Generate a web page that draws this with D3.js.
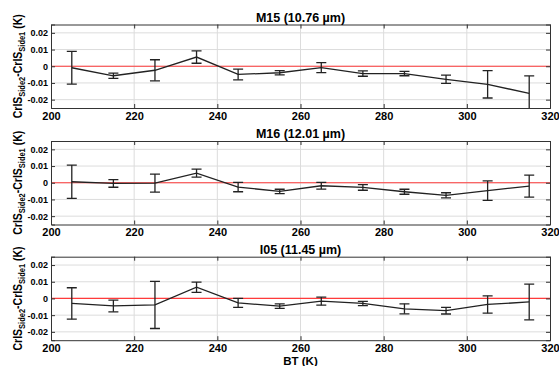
<!DOCTYPE html>
<html><head><meta charset="utf-8">
<script src="https://cdn.jsdelivr.net/npm/d3@7"></script>
<style>body{margin:0;background:#fff}svg{display:block}text{font-family:"Liberation Sans",Arial,sans-serif;font-weight:bold;fill:#000}</style>
</head><body><div id="chart"></div>
<script>
const bt = [205,215,225,235,245,255,265,275,285,295,305,315];
const titles = ["M15 (10.76 \u00b5m)", "M16 (12.01 \u00b5m)", "I05 (11.45 \u00b5m)"];
const m15Mean = [-0.0009,-0.0057,-0.0024,0.0055,-0.0049,-0.0039,-0.0008,-0.0044,-0.0044,-0.0078,-0.0108,-0.0163];
const m15Err  = [0.0098,0.0016,0.0063,0.0037,0.0032,0.0013,0.0030,0.0016,0.0013,0.0025,0.0082,0.0105];
const m16Mean = [0.0006,-0.0004,-0.0002,0.0058,-0.0026,-0.0052,-0.0018,-0.0028,-0.0054,-0.0075,-0.0047,-0.0020];
const m16Err  = [0.0100,0.0023,0.0054,0.0024,0.0028,0.0013,0.0020,0.0017,0.0015,0.0015,0.0058,0.0066];
const i05Mean = [-0.0030,-0.0045,-0.0039,0.0067,-0.0027,-0.0046,-0.0016,-0.0030,-0.0062,-0.0073,-0.0036,-0.0021];
const i05Err  = [0.0094,0.0035,0.0141,0.0031,0.0027,0.0013,0.0024,0.0013,0.0030,0.0020,0.0052,0.0107];
const xTicks = [200,220,240,260,280,300,320];
const yTicks = [-0.02,-0.01,0,0.01,0.02];
const yTickLabels = ["-0.02","-0.01","0","0.01","0.02"];

const W=559,H=366;
const svg=d3.select("#chart").append("svg").attr("width",W).attr("height",H);
const left=51,right=550;
const tops=[24.5,141,256.7], ph=83.5;
const x=d3.scaleLinear().domain([200,320]).range([left,right]);
const panels=[{m:m15Mean,e:m15Err},{m:m16Mean,e:m16Err},{m:i05Mean,e:i05Err}];

panels.forEach((p,i)=>{
  const top=tops[i], bot=top+ph;
  const y=d3.scaleLinear().domain([-0.025,0.025]).range([bot,top]);
  const g=svg.append("g");
  g.append("clipPath").attr("id","clip"+i).append("rect").attr("x",left).attr("y",top).attr("width",right-left).attr("height",ph);
  g.selectAll(".vg").data(xTicks.slice(1,-1)).join("line")
    .attr("x1",d=>x(d)).attr("x2",d=>x(d)).attr("y1",top).attr("y2",bot)
    .attr("stroke","#dcdcdc").attr("stroke-width",1);
  g.selectAll(".hg").data(yTicks).join("line")
    .attr("x1",left).attr("x2",right).attr("y1",d=>y(d)).attr("y2",d=>y(d))
    .attr("stroke","#dcdcdc").attr("stroke-width",1);
  g.append("line").attr("x1",left).attr("x2",right).attr("y1",y(0)).attr("y2",y(0))
    .attr("stroke","#ff3b3b").attr("stroke-width",1.2);
  const ax=g.append("g").attr("transform",`translate(0,${bot})`)
    .call(d3.axisBottom(x).tickValues(xTicks).tickSize(-4).tickPadding(4).tickFormat(d3.format("d")));
  const axT=g.append("g").attr("transform",`translate(0,${top})`)
    .call(d3.axisTop(x).tickValues(xTicks).tickSize(-4).tickFormat(""));
  const ayL=g.append("g").attr("transform",`translate(${left},0)`)
    .call(d3.axisLeft(y).tickValues(yTicks).tickSize(-4).tickPadding(3).tickFormat((d,k)=>yTickLabels[k]));
  const ayR=g.append("g").attr("transform",`translate(${right},0)`)
    .call(d3.axisRight(y).tickValues(yTicks).tickSize(-4).tickFormat(""));
  [ax,axT,ayL,ayR].forEach(a=>{
    a.select(".domain").attr("stroke","#333").attr("stroke-width",1);
    a.selectAll(".tick line").attr("stroke","#333");
    a.selectAll("text").attr("font-family","Liberation Sans, Arial, sans-serif").attr("font-weight","bold").attr("fill","#000");
  });
  ax.selectAll("text").attr("font-size",11);
  ayL.selectAll("text").attr("font-size",9);
  const gd=g.append("g").attr("clip-path",`url(#clip${i})`);
  const line=d3.line().x((d,k)=>x(bt[k])).y(d=>y(d));
  gd.append("path").datum(p.m).attr("d",line).attr("fill","none").attr("stroke","#222").attr("stroke-width",1.3);
  const eb=gd.selectAll(".eb").data(p.m).join("g");
  eb.append("line").attr("x1",(d,k)=>x(bt[k])).attr("x2",(d,k)=>x(bt[k]))
    .attr("y1",(d,k)=>y(d+p.e[k])).attr("y2",(d,k)=>y(d-p.e[k])).attr("stroke","#222").attr("stroke-width",1.3);
  eb.append("line").attr("x1",(d,k)=>x(bt[k])-5).attr("x2",(d,k)=>x(bt[k])+5)
    .attr("y1",(d,k)=>y(d+p.e[k])).attr("y2",(d,k)=>y(d+p.e[k])).attr("stroke","#222").attr("stroke-width",1.3);
  eb.append("line").attr("x1",(d,k)=>x(bt[k])-5).attr("x2",(d,k)=>x(bt[k])+5)
    .attr("y1",(d,k)=>y(d-p.e[k])).attr("y2",(d,k)=>y(d-p.e[k])).attr("stroke","#222").attr("stroke-width",1.3);
  g.append("text").attr("x",(left+right)/2).attr("y",top-3).attr("text-anchor","middle").attr("font-size",12.5).text(titles[i]);
  const cy=top+ph/2;
  const yl=g.append("text").attr("transform",`translate(22,${cy}) rotate(-90) scale(1,1.2)`).attr("text-anchor","middle").attr("font-size",10.5);
  yl.append("tspan").text("CrIS");
  yl.append("tspan").attr("font-size",7.5).attr("dy",2.5).text("Side2");
  yl.append("tspan").attr("dy",-2.5).text("-CrIS");
  yl.append("tspan").attr("font-size",7.5).attr("dy",2.5).text("Side1");
  yl.append("tspan").attr("dy",-2.5).text(" (K)");
});
svg.append("text").attr("x",(left+right)/2).attr("y",364.5).attr("text-anchor","middle").attr("font-size",11.5).text("BT (K)");
</script></body></html>
